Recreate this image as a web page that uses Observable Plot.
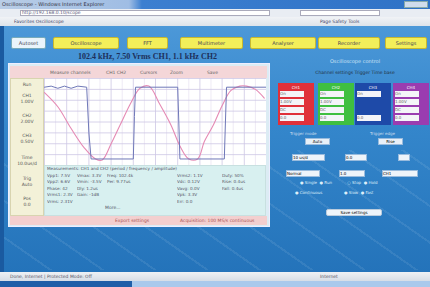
<!DOCTYPE html>
<html><head><meta charset="utf-8">
<script src="https://cdn.jsdelivr.net/npm/d3@7"></script>
<script src="https://cdn.jsdelivr.net/npm/@observablehq/plot@0.6"></script>
<style>
body{margin:0;width:430px;height:287px;overflow:hidden;position:relative;font-family:"DejaVu Sans",sans-serif;background:#2f7fc4}
.a{position:absolute;box-sizing:border-box;white-space:nowrap}
</style></head><body>
<script>
// ---- data ----
const navButtons = ["Autoset","Oscilloscope","FFT","Multimeter","Analyser","Recorder","Settings"];
const headerLabels = ["Measure channels","CH1 CH2","Cursors","Zoom","Save"];
const sideLabels = [["Run",""],["CH1","1.00V"],["CH2","2.00V"],["CH3","0.50V"],["Time","10.0us/d"],["Trig","Auto"],["Pos","0.0"]];
const gridX = [0,1,2,3,4,5,6,7,8,9,10];
const gridY = [-4,-3,-2,-1,0,1,2,3,4];
const minorX = [0.5,1.5,2.5,3.5,4.5,5.5,6.5,7.5,8.5,9.5];
const ch1Time = [0,0.6,1.2,1.8,2.3,2.6,3.0,3.4,3.9,4.3,4.7,5.2,5.7,6.1,6.5,6.9,7.2,7.6,8.0,8.4,8.8,9.1,9.5,9.9];
const ch1Volt = [2.7,1.4,-0.6,-2.4,-3.4,-3.5,-2.0,-0.3,1.8,3.1,3.3,1.6,-0.3,-2.2,-3.4,-3.4,-1.8,-0.3,1.5,2.9,3.3,3.3,3.0,2.2];
const ch2Time = [0,0.3,0.6,0.9,1.2,1.5,1.9,2.0,2.1,4.0,4.05,4.1,6.0,6.05,6.1,8.1,8.15,8.2,10];
const ch2Volt = [3.2,3.3,3.1,3.3,3.1,3.3,3.2,-1,-3.4,-3.4,0.5,3.2,3.2,0,-3.4,-3.4,0,3.2,3.2];
const meas = [
 ["Measurements: CH1 and CH2 (period / frequency / amplitude)"],
 ["Vpp1: 7.5V","Vmax: 3.3V","Freq: 102.4k","","Vrms2: 1.1V","Duty: 50%"],
 ["Vpp2: 6.6V","Vmin: -3.5V","Per: 9.77us","","Vdc: 0.12V","Rise: 0.4us"],
 ["Phase: 42","Dly: 1.2us","","","Vavg: 0.0V","Fall: 0.4us"],
 ["Vrms1: 2.3V","Gain: -1dB","","","Vpk: 3.3V"],
 ["Vrms: 2.31V","","","","Err: 0.0"]
];
const titleText = "102.4 kHz, 7.50 Vrms CH1, 1.1 kHz CH2";

function box(x,y,w,h,style,txt){const d=document.createElement("div");d.className="a";Object.assign(d.style,{left:x+"px",top:y+"px",width:w+"px",height:h+"px"},style||{});if(txt!==undefined)d.textContent=txt;document.body.appendChild(d);return d;}

// page background
box(0,26,430,255,{background:"linear-gradient(180deg,#4c98d8 0%,#3486cb 40%,#2372b9 100%)"});
box(0,150,430,120,{background:"repeating-linear-gradient(35deg,rgba(255,255,255,0) 0 28px,rgba(255,255,255,0.08) 28px 30px)"});
box(0,26,4,250,{background:"#1a5aa0"});
// browser chrome
box(0,0,430,9,{background:"linear-gradient(90deg,#b9cde6 0%,#9fbde4 30%,#3c7fd0 33%,#2f72c6 100%)"});
box(2,1,100,7,{fontSize:"5px",color:"#334",lineHeight:"7px"},"Oscilloscope - Windows Internet Explorer");
box(404,1,24,7,{background:"#d0dcec",border:"1px solid #8aa"});
box(0,9,430,8,{background:"#e9edf3"});
box(20,10,250,6,{background:"#fff",border:"1px solid #aab"});
box(22,10,80,6,{fontSize:"4.5px",color:"#557",lineHeight:"6px"},"http://192.168.0.10/scope");
box(300,10,80,6,{background:"#fff",border:"1px solid #aab"});
box(0,17,430,9,{background:"linear-gradient(180deg,#f1f3f6,#dde3ea)"});
box(14,18,120,7,{fontSize:"4.5px",color:"#446",lineHeight:"7px"},"Favorites   Oscilloscope");
box(320,18,110,7,{fontSize:"4.5px",color:"#446",lineHeight:"7px"},"Page   Safety   Tools");

// nav buttons
const navX=[[11,35],[53,66],[127,41],[180,63],[250,66],[318,62],[385,42]];
navButtons.forEach((b,i)=>{const [x,w]=navX[i];box(x,37,w,12,{background:i==0?"#eaf4fb":"#f3ef5a",border:i==0?"1px solid #7ab":"1px solid #c7b830",borderRadius:"2px",fontSize:"5px",color:"#445",textAlign:"center",lineHeight:"10px"},b);});

// title
box(55,52,185,10,{fontSize:"8px",fontWeight:"bold",color:"#1d2f5a",textAlign:"center",lineHeight:"10px",fontFamily:"'Liberation Serif',serif"},titleText);

// main panel
box(8,63,262,164,{background:"#dcecf4",border:"1px solid #eef"});
box(10,66,257,12,{background:"#f4d6d8"});
headerLabels.forEach((l,i)=>box([50,106,140,170,207][i],69,45,7,{fontSize:"4.5px",color:"#666",lineHeight:"7px"},l));
box(10,78,34,138,{background:"#f3f1d8",border:"1px solid #d8d4b0"});
sideLabels.forEach((s,i)=>{box(12,[82,93,113,133,155,176,196][i],30,12,{fontSize:"4.5px",color:"#555",textAlign:"center",lineHeight:"6px",whiteSpace:"pre"},s[0]+"\n"+s[1]);});
box(44,165,222,51,{background:"#d8f0f0",border:"1px solid #c8e0e0"});
meas.forEach((row,r)=>row.forEach((c,j)=>box(47+[0,30,60,100,130,175][j],166+r*6.5,j==0&&r==0?200:28,6,{fontSize:"4.2px",color:"#556",lineHeight:"6px",overflow:"hidden"},c)));
box(105,205,30,6,{fontSize:"4.5px",color:"#556",lineHeight:"6px"},"More...");
box(10,216,257,9,{background:"#f3cfcf"});
box(115,217,50,7,{fontSize:"4.5px",color:"#a55",lineHeight:"7px"},"Export settings");
box(180,217,85,7,{fontSize:"4.5px",color:"#a55",lineHeight:"7px"},"Acquisition: 100 MS/s continuous");

// right panel
box(300,57,110,8,{fontSize:"5px",color:"#cfe4f6",textAlign:"center",lineHeight:"8px"},"Oscilloscope control");
box(285,69,140,8,{fontSize:"4.5px",color:"#234",textAlign:"center",lineHeight:"8px"},"Channel settings   Trigger   Time base");
const chBoxes=[[278,"#e0303a"],[318,"#3fbf40"],[355,"#1e4aa8"],[393,"#9a3cb0"]];
chBoxes.forEach(([x,c],i)=>{box(x,83,36,42,{background:c,border:"1px solid "+c});
 box(x+2,85,32,5,{fontSize:"4px",color:"#fff",textAlign:"center",lineHeight:"5px"},"CH"+(i+1));
 for(let r=0;r<4;r++){ if(i==2&&r>0&&r<3)continue; box(x+2,91+r*8,24,6,{background:"#f4f4f8",fontSize:"4px",color:"#666",lineHeight:"6px"},["On","1.00V","DC","0.0"][r]);}
});
box(305,138,25,7,{background:"#e8f0f8",border:"1px solid #9bd",fontSize:"4px",textAlign:"center",lineHeight:"6px"},"Auto");
box(378,138,25,7,{background:"#e8f0f8",border:"1px solid #9bd",fontSize:"4px",textAlign:"center",lineHeight:"6px"},"Rise");
box(290,131,40,5,{fontSize:"4px",color:"#cde",lineHeight:"5px"},"Trigger mode");
box(370,131,40,5,{fontSize:"4px",color:"#cde",lineHeight:"5px"},"Trigger edge");
box(292,154,33,7,{background:"#eef4fa",border:"1px solid #9bd",fontSize:"4px",lineHeight:"6px"},"10 us/d");
box(345,154,22,7,{background:"#eef4fa",border:"1px solid #9bd",fontSize:"4px",lineHeight:"6px"},"0.0");
box(398,154,12,7,{background:"#eef4fa",border:"1px solid #9bd"});
box(286,170,34,7,{background:"#eef4fa",border:"1px solid #9bd",fontSize:"4px",lineHeight:"6px"},"Normal");
box(339,170,26,7,{background:"#eef4fa",border:"1px solid #9bd",fontSize:"4px",lineHeight:"6px"},"1.0");
box(382,170,36,7,{background:"#eef4fa",border:"1px solid #9bd",fontSize:"4px",lineHeight:"6px"},"CH1");
box(300,180,120,6,{fontSize:"4px",color:"#dfeefa",lineHeight:"6px",whiteSpace:"pre"},"\u25CF Single  \u25CF Run            \u25CB Stop  \u25CF Hold");
box(295,190,130,6,{fontSize:"4px",color:"#dfeefa",lineHeight:"6px",whiteSpace:"pre"},"\u25CF Continuous                 \u25CF Slow  \u25CF Fast");
box(326,209,56,7,{background:"#eef4fa",border:"1px solid #bcd",borderRadius:"2px",fontSize:"4px",textAlign:"center",lineHeight:"6px"},"Save settings");

// status bar
box(0,272,430,9,{background:"linear-gradient(180deg,#eef1f5,#d6dde6)"});
box(10,273,90,7,{fontSize:"4.5px",color:"#556",lineHeight:"7px"},"Done, Internet | Protected Mode: Off");
box(320,273,40,7,{fontSize:"4.5px",color:"#556",lineHeight:"7px"},"Internet");
box(0,281,132,6,{background:"#1e5ea8"});
box(132,281,298,6,{background:"#a9c9ec"});

// ---- oscilloscope plot ----
const ch1 = ch1Time.map((t,i)=>({t,v:ch1Volt[i]}));
const ch2 = ch2Time.map((t,i)=>({t,v:ch2Volt[i]}));
const chart = Plot.plot({
  width:222,height:87,margin:0,
  style:{background:"#ffffff"},
  x:{domain:[0,10],axis:null},
  y:{domain:[-4,4],axis:null},
  marks:[
    Plot.ruleX(minorX,{stroke:"#e6e1f1",strokeWidth:0.7}),
    Plot.ruleX(gridX,{stroke:"#cdc6e4",strokeWidth:0.8}),
    Plot.ruleY(gridY,{stroke:"#cdc6e4",strokeWidth:0.8}),
    Plot.line(ch1,{x:"t",y:"v",stroke:"#e58ab4",strokeWidth:1.1,curve:"catmull-rom"}),
    Plot.line(ch2,{x:"t",y:"v",stroke:"#6f78b8",strokeWidth:1})
  ]
});
const holder = box(44,78,222,87,{background:"#fff"});
holder.appendChild(chart);
</script>
</body></html>
